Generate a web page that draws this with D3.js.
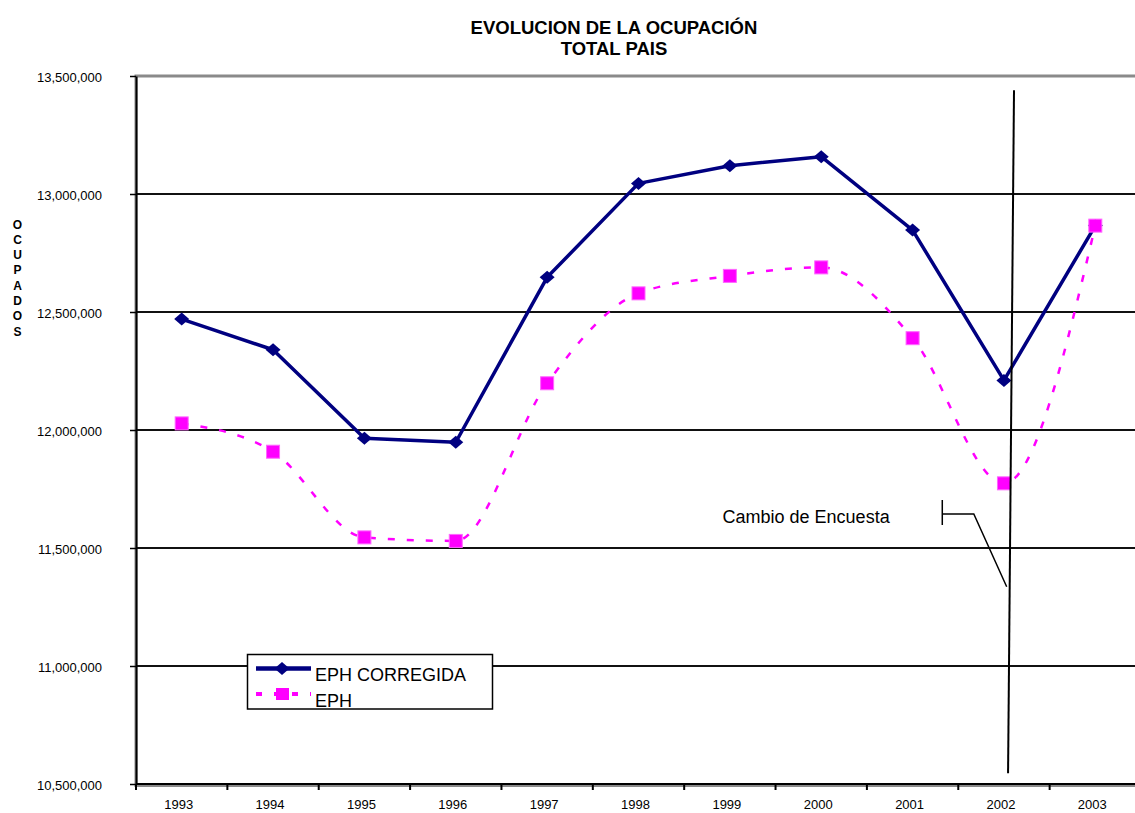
<!DOCTYPE html>
<html>
<head>
<meta charset="utf-8">
<script src="https://cdn.jsdelivr.net/npm/d3@7"></script>
<style>
  body { margin: 0; background: #fff; overflow: hidden; }
  svg { display: block; font-family: Arial, "Liberation Sans", sans-serif; }
</style>
</head>
<body>
<svg width="1135" height="813"></svg>
<script>
var years = ["1993", "1994", "1995", "1996", "1997", "1998", "1999", "2000", "2001", "2002", "2003"];
var ephCorregida = [12470000, 12340000, 11965000, 11948000, 12647000, 13045000, 13120000, 13158000, 12847000, 12210000, 12866000];
var eph = [12028000, 11908000, 11545000, 11530000, 12198000, 12579000, 12653000, 12689000, 12389000, 11774000, 12866000];
var yTicks = [10500000, 11000000, 11500000, 12000000, 12500000, 13000000, 13500000];
var seriesNames = ["EPH CORREGIDA", "EPH"];
var titleLines = ["EVOLUCION DE LA OCUPACIÓN", "TOTAL PAIS"];
var yLabel = "OCUPADOS";
var noteText = "Cambio de Encuesta";

var svg = d3.select("svg");
var margin = {top: 76, left: 136};
var width = 1005;
var height = 708;
var g = svg.append("g").attr("transform", "translate(" + margin.left + "," + margin.top + ")");

var x = d3.scaleBand().domain(years).range([0, width]);
// continuous index scale, used for the category boundaries and the notes
var xi = d3.scaleLinear().domain([0, years.length]).range([0, width]);
var y = d3.scaleLinear().domain([yTicks[0], yTicks[yTicks.length - 1]]).range([height, 0]);

function cx(i) { return x(years[i]) + x.bandwidth() / 2; }

// title
svg.append("g")
    .attr("font-weight", "bold")
    .attr("font-size", 18.5)
    .attr("text-anchor", "middle")
    .selectAll("text")
    .data(titleLines)
    .enter().append("text")
    .attr("x", 614)
    .attr("y", function(d, i) { return 34 + i * 21; })
    .text(function(d) { return d; });

// vertical axis title, one letter per row
svg.append("g")
    .attr("font-weight", "bold")
    .attr("font-size", 12)
    .attr("text-anchor", "middle")
    .selectAll("text")
    .data(yLabel.split(""))
    .enter().append("text")
    .attr("x", 17.5)
    .attr("y", function(d, i) { return 228.5 + i * 15.3; })
    .text(function(d) { return d; });

// plot border (gray)
g.append("rect")
    .attr("x", 0).attr("y", 0)
    .attr("width", width).attr("height", height + 1.5)
    .attr("fill", "none")
    .attr("stroke", "#8a8a8a")
    .attr("stroke-width", 3);

// gridlines
g.append("g")
    .selectAll("line")
    .data(yTicks.slice(1, -1))
    .enter().append("line")
    .attr("x1", 0).attr("x2", width)
    .attr("y1", function(d) { return y(d); })
    .attr("y2", function(d) { return y(d); })
    .attr("stroke", "#111")
    .attr("stroke-width", 2);

// y axis
var yAxis = g.append("g")
    .call(d3.axisLeft(y).tickValues(yTicks).tickFormat(d3.format(",")).tickSize(6).tickSizeOuter(0).tickPadding(28));
yAxis.select(".domain").attr("stroke", "#000").attr("stroke-width", 2);
yAxis.selectAll(".tick line").attr("stroke", "#000").attr("stroke-width", 1.5);
yAxis.selectAll("text")
    .attr("font-size", 13)
    .attr("font-family", "Arial, 'Liberation Sans', sans-serif")
    .attr("fill", "#000")
    .attr("dy", "0.4em");

// x axis line and boundary ticks
g.append("line")
    .attr("x1", 0).attr("x2", width)
    .attr("y1", height).attr("y2", height)
    .attr("stroke", "#000")
    .attr("stroke-width", 2);
g.append("g")
    .selectAll("line")
    .data(d3.range(years.length + 1))
    .enter().append("line")
    .attr("x1", function(d) { return xi(d); })
    .attr("x2", function(d) { return xi(d); })
    .attr("y1", height).attr("y2", height + 6)
    .attr("stroke", "#000")
    .attr("stroke-width", 2);

var xAxis = g.append("g")
    .attr("transform", "translate(0," + height + ")")
    .call(d3.axisBottom(x).tickSize(0).tickPadding(16));
xAxis.select(".domain").remove();
xAxis.selectAll("text")
    .attr("font-size", 13)
    .attr("font-family", "Arial, 'Liberation Sans', sans-serif")
    .attr("fill", "#000")
    .attr("dx", -3);

// EPH (smoothed, dashed magenta)
var smooth = d3.line()
    .x(function(d, i) { return cx(i); })
    .y(function(d) { return y(d); })
    .curve(d3.curveMonotoneX);

g.append("path")
    .datum(eph)
    .attr("fill", "none")
    .attr("stroke", "#ff00ff")
    .attr("stroke-width", 2.5)
    .attr("stroke-dasharray", "7,12")
    .attr("d", smooth);

// EPH CORREGIDA (straight, navy)
var straight = d3.line()
    .x(function(d, i) { return cx(i); })
    .y(function(d) { return y(d); });

g.append("path")
    .datum(ephCorregida)
    .attr("fill", "none")
    .attr("stroke", "#000080")
    .attr("stroke-width", 3.5)
    .attr("stroke-linejoin", "round")
    .attr("d", straight);

var diamond = "M0,-6.5L7.5,0L0,6.5L-7.5,0Z";

g.append("g")
    .selectAll("path")
    .data(ephCorregida)
    .enter().append("path")
    .attr("transform", function(d, i) { return "translate(" + cx(i) + "," + y(d) + ")"; })
    .attr("d", diamond)
    .attr("fill", "#000080");

g.append("g")
    .selectAll("rect")
    .data(eph)
    .enter().append("rect")
    .attr("x", function(d, i) { return cx(i) - 6.5; })
    .attr("y", function(d) { return y(d) - 6.5; })
    .attr("width", 13)
    .attr("height", 13)
    .attr("fill", "#ff00ff")
    .attr("stroke", "#ff66ff")
    .attr("stroke-width", 1);

// survey change marker
g.append("line")
    .attr("x1", xi(9.61)).attr("y1", y(13440000))
    .attr("x2", xi(9.545)).attr("y2", y(10546000))
    .attr("stroke", "#000")
    .attr("stroke-width", 2);

g.append("text")
    .attr("x", xi(6.42))
    .attr("y", y(11607000))
    .attr("font-size", 18)
    .attr("fill", "#000")
    .text(noteText);

g.append("path")
    .attr("d", "M" + xi(8.825) + "," + y(11703000) + "V" + y(11597000) +
      "M" + xi(8.825) + "," + y(11644000) + "H" + xi(9.17) +
      "L" + xi(9.53) + "," + y(11336000))
    .attr("fill", "none")
    .attr("stroke", "#000")
    .attr("stroke-width", 1.5);

// legend
var legend = svg.append("g");
legend.append("rect")
    .attr("x", 247.5).attr("y", 654.5)
    .attr("width", 245).attr("height", 54.5)
    .attr("fill", "#fff");

legend.append("line")
    .attr("x1", 256).attr("x2", 311)
    .attr("y1", 668.5).attr("y2", 668.5)
    .attr("stroke", "#000080")
    .attr("stroke-width", 4.5);
legend.append("path")
    .attr("transform", "translate(282,668.5)")
    .attr("d", diamond)
    .attr("fill", "#000080");

legend.append("line")
    .attr("x1", 256).attr("x2", 311)
    .attr("y1", 694).attr("y2", 694)
    .attr("stroke", "#ff00ff")
    .attr("stroke-width", 4)
    .attr("stroke-dasharray", "6,12");
legend.append("rect")
    .attr("x", 276).attr("y", 688)
    .attr("width", 13).attr("height", 12)
    .attr("fill", "#ff00ff");

legend.selectAll("text")
    .data(seriesNames)
    .enter().append("text")
    .attr("x", 315)
    .attr("y", function(d, i) { return 681 + i * 26; })
    .attr("font-size", 18)
    .attr("fill", "#000")
    .text(function(d) { return d; });

legend.append("rect")
    .attr("x", 247.5).attr("y", 654.5)
    .attr("width", 245).attr("height", 54.5)
    .attr("fill", "none")
    .attr("stroke", "#000")
    .attr("stroke-width", 1.5);
</script>
</body>
</html>
